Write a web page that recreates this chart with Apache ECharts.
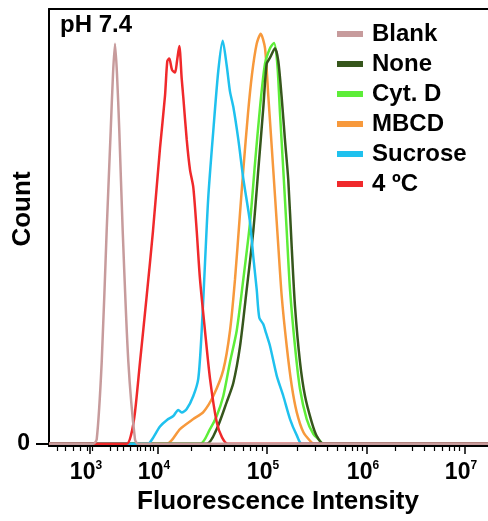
<!DOCTYPE html>
<html>
<head>
<meta charset="utf-8">
<script src="https://cdn.jsdelivr.net/npm/echarts@6/dist/echarts.min.js"></script>
<style>html,body{margin:0;padding:0;background:#fff}#c{width:488px;height:521px}</style>
</head>
<body>
<div id="c"></div>
<script>
// x values: display position on the log-like fluorescence axis (decade units)
const X_MIN = 2.82, X_MAX = 7.21;
const TICK_POS = [3.23, 3.91, 5, 6, 6.98];
const TICK_EXP = ['3', '4', '5', '6', '7'];
const MINOR_TICKS = [2.90, 2.98, 3.06, 3.13, 3.20, 3.25, 3.43, 3.50, 3.56, 3.63, 3.70, 3.73, 3.78, 3.83, 3.86,
  4.24, 4.43, 4.57, 4.67, 4.76, 4.83, 4.89, 4.95,
  5.30, 5.48, 5.60, 5.70, 5.78, 5.85, 5.90, 5.95,
  6.28, 6.45, 6.57, 6.67, 6.75, 6.82, 6.87, 6.92];

const SERIES_NAMES = ['Blank', 'None', 'Cyt. D', 'MBCD', 'Sucrose', '4 ºC'];

const BLANK_X = [3.26, 3.297, 3.347, 3.397, 3.437, 3.46, 3.48, 3.50, 3.523, 3.557, 3.613, 3.68, 3.71];
const BLANK_Y = [0, 1, 18.8, 49.2, 72, 85, 92, 85, 72, 49, 19, 1, 0];

const NONE_X = [4.397, 4.497, 4.597, 4.663, 4.73, 4.797, 4.863, 4.913, 4.963, 4.997, 5.03, 5.08, 5.113, 5.147, 5.18, 5.213, 5.247, 5.28, 5.33, 5.38, 5.447, 5.497, 5.563];
const NONE_Y = [0, 3.4, 9.6, 14, 22.4, 35.5, 49, 63, 77.3, 87.4, 88.8, 91, 88, 79.6, 69.8, 60.6, 45.3, 31.6, 18.8, 11, 5, 1.8, 0];

const CYTD_X = [4.33, 4.43, 4.497, 4.563, 4.63, 4.697, 4.763, 4.83, 4.88, 4.93, 4.98, 5.03, 5.07, 5.103, 5.13, 5.163, 5.197, 5.23, 5.28, 5.33, 5.397, 5.463, 5.53, 5.56];
const CYTD_Y = [0, 3.4, 6.4, 11, 18.8, 26, 37.8, 50.8, 64.5, 77.3, 87.4, 91, 92.2, 87.4, 76, 63, 49, 35.5, 22.4, 12.6, 5.7, 2.3, 0.7, 0];

const MBCD_X = [3.997, 4.13, 4.263, 4.363, 4.463, 4.563, 4.63, 4.68, 4.73, 4.763, 4.81, 4.85, 4.897, 4.937, 4.98, 5.013, 5.047, 5.08, 5.113, 5.147, 5.197, 5.247, 5.297, 5.363, 5.43, 5.47];
const MBCD_Y = [0, 3.4, 5.7, 7.3, 11, 17, 26, 37.8, 53, 63, 76, 85, 92, 94.3, 91, 80, 68.4, 57, 45.5, 34, 22.5, 13.4, 7.3, 2.7, 0.7, 0];

const SUCROSE_X = [3.81, 3.85, 3.93, 4.0, 4.063, 4.113, 4.147, 4.197, 4.263, 4.313, 4.347, 4.38, 4.413, 4.463, 4.513, 4.557, 4.597, 4.63, 4.663, 4.713, 4.763, 4.83, 4.863, 4.897, 4.923, 4.963, 4.99, 5.03, 5.097, 5.163, 5.23, 5.297, 5.35];
const SUCROSE_Y = [0, 1, 4, 5.5, 6.4, 7.8, 7.2, 8, 11, 15, 26, 41.6, 56.8, 72, 85.8, 92.7, 87, 81, 77.5, 70, 61, 51, 43, 35.5, 29, 27.5, 25.5, 22.5, 15.7, 11, 5.7, 2, 0];

const COLD_X = [3.597, 3.64, 3.68, 3.73, 3.797, 3.86, 3.93, 3.98, 4.003, 4.023, 4.05, 4.08, 4.10, 4.123, 4.147, 4.163, 4.197, 4.23, 4.263, 4.297, 4.33, 4.38, 4.43, 4.497, 4.55, 4.61];
const COLD_Y = [0, 2, 7.3, 18.8, 34, 49, 68, 80, 88, 88.6, 86, 85.4, 88, 91.5, 84, 79.7, 70, 63, 59, 49, 37.8, 26, 15, 5, 1.5, 0];

const COLORS = {
  'Blank': '#c79b9c', 'None': '#36561c', 'Cyt. D': '#5ded38',
  'MBCD': '#f7993c', 'Sucrose': '#1fc1ee', '4 ºC': '#f0292b'
};

function pairs(xs, ys) {
  const d = [[X_MIN, 0]];
  for (let i = 0; i < xs.length; i++) d.push([xs[i], ys[i]]);
  d.push([X_MAX, 0]);
  return d;
}

const FONT = '"Liberation Sans", Arial, sans-serif';

function lineSeries(name, xs, ys, w) {
  return {
    name: name, type: 'line', data: pairs(xs, ys), showSymbol: false, symbol: 'none',
    smooth: 0.25, color: COLORS[name], lineStyle: { width: w, color: COLORS[name] },
    itemStyle: { color: COLORS[name] }, emphasis: { disabled: true }, animation: false
  };
}

const chart = echarts.init(document.getElementById('c'), null, { renderer: 'canvas' });
chart.setOption({
  animation: false,
  grid: { left: 49, right: 0, top: 9, bottom: 75 },
  legend: {
    data: SERIES_NAMES, orient: 'vertical', left: 337, top: 22, padding: 0,
    icon: 'rect', itemWidth: 26, itemHeight: 6, itemGap: 6, selectedMode: false,
    textStyle: { fontFamily: FONT, fontSize: 24, fontWeight: 'bold', color: '#000', lineHeight: 24, padding: [0, 0, 0, 4] }
  },
  xAxis: [
    {
      type: 'value', min: X_MIN, max: X_MAX, position: 'bottom', offset: 0,
      splitLine: { show: false },
      axisLine: { show: true, onZero: false, lineStyle: { color: '#000', width: 2 } },
      axisTick: { show: true, customValues: TICK_POS, length: 8, lineStyle: { color: '#000', width: 1.5 } },
      axisLabel: {
        customValues: TICK_POS, margin: 14, padding: [0, 8, 0, 0],
        formatter: function (v) {
          let i = TICK_POS.findIndex(t => Math.abs(t - v) < 1e-6);
          return '{b|10}{s|' + TICK_EXP[i] + '}';
        },
        rich: {
          b: { fontFamily: FONT, fontSize: 23, fontWeight: 'bold', color: '#000', lineHeight: 26 },
          s: { fontFamily: FONT, fontSize: 12, fontWeight: 'bold', color: '#000', verticalAlign: 'top', lineHeight: 14 }
        }
      }
    },
    {
      type: 'value', min: X_MIN, max: X_MAX, position: 'bottom', offset: 0,
      splitLine: { show: false }, axisLine: { show: false, onZero: false },
      axisTick: { show: true, customValues: MINOR_TICKS, length: 5, lineStyle: { color: '#000', width: 1.2 } },
      axisLabel: { show: false }
    },
    {
      type: 'value', min: X_MIN, max: X_MAX, position: 'top', offset: 0,
      splitLine: { show: false },
      axisLine: { show: true, onZero: false, lineStyle: { color: '#000', width: 2 } },
      axisTick: { show: false }, axisLabel: { show: false }
    }
  ],
  yAxis: {
    type: 'value', min: -0.5, max: 100, position: 'left',
    splitLine: { show: false },
    axisLine: { show: true, onZero: false, lineStyle: { color: '#000', width: 2 } },
    axisTick: { show: true, customValues: [0], length: 13, lineStyle: { color: '#000', width: 2 } },
    axisLabel: { customValues: [0], margin: 19, fontFamily: FONT, fontSize: 23, fontWeight: 'bold', color: '#000' }
  },
  graphic: [
    { type: 'text', left: 60, top: 13, style: { text: 'pH 7.4', font: 'bold 24px ' + FONT, fill: '#000' } },
    { type: 'text', x: 23, y: 209, rotation: Math.PI / 2, style: { text: 'Count', font: 'bold 26px ' + FONT, fill: '#000', align: 'center', verticalAlign: 'middle' } },
    { type: 'text', x: 278, y: 502, style: { text: 'Fluorescence Intensity', font: 'bold 26px ' + FONT, fill: '#000', align: 'center', verticalAlign: 'middle' } }
  ],
  series: [
    lineSeries('MBCD', MBCD_X, MBCD_Y, 2.5),
    lineSeries('Cyt. D', CYTD_X, CYTD_Y, 2.5),
    lineSeries('None', NONE_X, NONE_Y, 2.5),
    lineSeries('Sucrose', SUCROSE_X, SUCROSE_Y, 2.5),
    lineSeries('4 ºC', COLD_X, COLD_Y, 2.5),
    lineSeries('Blank', BLANK_X, BLANK_Y, 2.5)
  ]
});
</script>
</body>
</html>
